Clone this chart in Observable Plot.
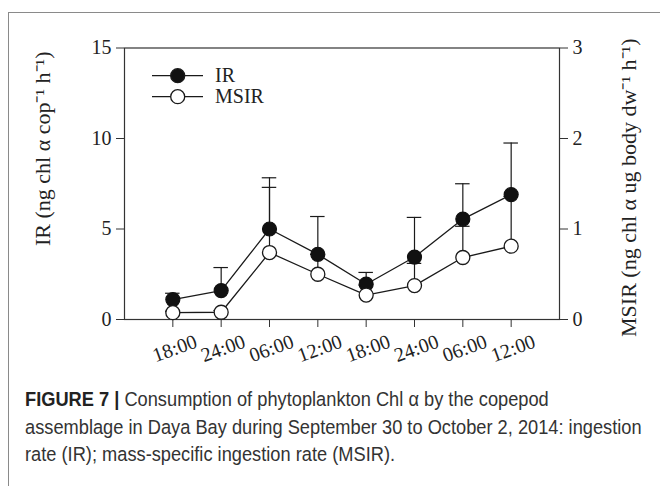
<!DOCTYPE html>
<html><head><meta charset="utf-8">
<script src="https://cdn.jsdelivr.net/npm/d3@7"></script>
<script src="https://cdn.jsdelivr.net/npm/@observablehq/plot@0.6"></script>
<style>
html,body{margin:0;padding:0;background:#fff;}
body{width:660px;height:486px;position:relative;overflow:hidden;}
#border{position:absolute;left:8px;top:12px;width:700px;height:500px;border-top:1.5px solid #8a8a8a;border-left:1.5px solid #8a8a8a;z-index:5;pointer-events:none;}
#chart{position:absolute;left:0;top:0;}
#legend{position:absolute;left:0;top:0;}
#caption{position:absolute;left:25px;top:385px;font-family:"Liberation Sans Narrow","Liberation Sans",sans-serif;font-size:20.5px;line-height:27.5px;color:#333;white-space:nowrap;transform:scaleX(0.89);transform-origin:0 0;}
#caption b{color:#222;}
</style>
</head><body>
<div id="chart"></div>
<svg id="legend" width="300" height="120"></svg>
<div id="caption"><b>FIGURE 7 |</b> Consumption of phytoplankton Chl α by the copepod<br>assemblage in Daya Bay during September 30 to October 2, 2014: ingestion<br>rate (IR); mass-specific ingestion rate (MSIR).</div>
<div id="border"></div>
<script>
const timeLabels = ["18:00","24:00","06:00","12:00","18:00","24:00","06:00","12:00"];
const irValues   = [1.1, 1.6, 5.0, 3.6, 1.95, 3.45, 5.55, 6.9];
const irUpper    = [1.45, 2.87, 7.83, 5.69, 2.6, 5.64, 7.5, 9.75];
const msirValues = [0.075, 0.08, 0.74, 0.5, 0.27, 0.375, 0.685, 0.81];
const msirUpper  = [0.09, 0.1, 1.46, 0.72, 0.38, 0.62, 1.03, 1.36];
const leftTicks  = [0, 5, 10, 15];
const rightTicks = [0, 1, 2, 3];
const leftTitle  = "IR (ng chl α cop⁻¹ h⁻¹)";
const rightTitle = "MSIR (ng chl α ug body dw⁻¹ h⁻¹)";

const ratio = 15 / 3; // right axis (MSIR) 0..3 maps onto left axis 0..15
const rows = timeLabels.map((label, i) => ({
  x: i + 1, label,
  ir: irValues[i], irHi: irUpper[i],
  ms: msirValues[i] * ratio, msHi: msirUpper[i] * ratio
}));

const ink = "#1a1a1a";
const serif = "'Liberation Serif', 'Times New Roman', serif";
const capHalf = 0.15;

const plot = Plot.plot({
  width: 660, height: 380,
  marginLeft: 124, marginRight: 101, marginTop: 47.5, marginBottom: 61,
  x: {domain: [0, 9]},
  y: {domain: [0, 15]},
  style: {fontFamily: serif, fontSize: "20px", color: "#222", background: "transparent"},
  marks: [
    Plot.frame({stroke: "#333", strokeWidth: 1.2}),
    Plot.axisY({ticks: leftTicks, tickSize: 8, tickPadding: 5, fontSize: 20, fontFamily: serif, fontVariant: "normal",
      stroke: "#333", fill: "#222", label: null}),
    Plot.axisY({anchor: "right", ticks: rightTicks.map(t => t * ratio), tickFormat: d => String(d / ratio),
      tickSize: 8, tickPadding: 5, fontSize: 20, fontFamily: serif, fontVariant: "normal", stroke: "#333", fill: "#222", label: null}),
    Plot.axisX({ticks: rows.map(d => d.x), tickSize: 8, tickFormat: () => "", stroke: "#333", label: null}),
    Plot.text([leftTitle], {text: d => d, frameAnchor: "left", dx: -82, dy: -35, rotate: -90,
      fontSize: 22, fontFamily: serif, fill: "#222", textAnchor: "middle", lineAnchor: "middle"}),
    Plot.text([rightTitle], {text: d => d, frameAnchor: "right", dx: 69, dy: 4, rotate: -90,
      fontSize: 22, fontFamily: serif, fill: "#222", textAnchor: "middle", lineAnchor: "middle"}),
    Plot.text(rows, {x: "x", y: () => 0, text: "label", dy: 29, dx: 2, rotate: -20, fontSize: 20, fontFamily: serif,
      textAnchor: "middle", lineAnchor: "middle", fill: "#222"}),
    // MSIR error bars
    Plot.ruleX(rows, {x: "x", y1: "ms", y2: "msHi", stroke: ink, strokeWidth: 1.2}),
    Plot.ruleY(rows, {y: "msHi", x1: d => d.x - capHalf, x2: d => d.x + capHalf, stroke: ink, strokeWidth: 1.2}),
    // IR error bars
    Plot.ruleX(rows, {x: "x", y1: "ir", y2: "irHi", stroke: ink, strokeWidth: 1.2}),
    Plot.ruleY(rows, {y: "irHi", x1: d => d.x - capHalf, x2: d => d.x + capHalf, stroke: ink, strokeWidth: 1.2}),
    Plot.line(rows, {x: "x", y: "ir", stroke: ink, strokeWidth: 1.3}),
    Plot.line(rows, {x: "x", y: "ms", stroke: ink, strokeWidth: 1.3}),
    Plot.dot(rows, {x: "x", y: "ir", r: 7, fill: "#111", stroke: "#111", strokeWidth: 1.2}),
    Plot.dot(rows, {x: "x", y: "ms", r: 7, fill: "white", stroke: ink, strokeWidth: 1.3})
  ]
});
document.getElementById("chart").appendChild(plot);

// legend
const lg = d3.select("#legend");
const items = [{name: "IR", fill: "#111", y: 75.7}, {name: "MSIR", fill: "white", y: 96.7}];
for (const it of items) {
  lg.append("line").attr("x1", 152).attr("x2", 203).attr("y1", it.y).attr("y2", it.y)
    .attr("stroke", ink).attr("stroke-width", 1.3);
  lg.append("circle").attr("cx", 177.7).attr("cy", it.y).attr("r", 7)
    .attr("fill", it.fill).attr("stroke", ink).attr("stroke-width", 1.3);
  lg.append("text").attr("x", 215).attr("y", it.y + 6.5).text(it.name)
    .attr("font-family", serif).attr("font-size", 20).attr("fill", "#222");
}
</script>
</body></html>
